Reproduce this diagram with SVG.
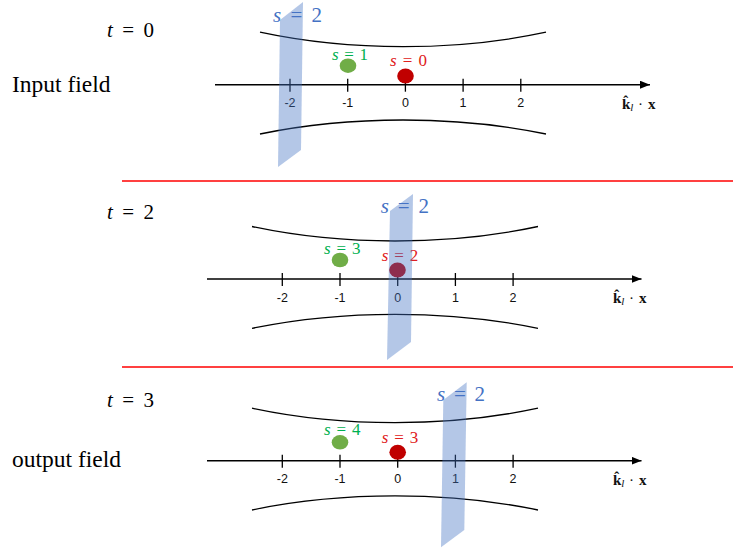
<svg xmlns="http://www.w3.org/2000/svg" width="733" height="550" viewBox="0 0 733 550">
<style>
.sep{stroke:#ff0000;stroke-width:1.6}
.axis{stroke:#000;stroke-width:1.5;fill:none}
.tick{stroke:#000;stroke-width:1.3}
.beam{stroke:#000;stroke-width:1.3;fill:none}
.tl{font-family:"Liberation Sans",Arial,sans-serif;font-size:12.5px;text-anchor:middle;fill:#111}
.math{font-family:"Liberation Serif","Times New Roman",serif}
.it{font-style:italic}
.sm{font-size:17px}
.big{font-size:21px}
.green{fill:#00b050}
.red{fill:#e02020}
.blue{fill:#4472c4}
.plane{fill:#4472c4;fill-opacity:0.4}
.gdot{fill:#70ad47}
.rdot{fill:#c00000}
.field{font-family:"Liberation Serif","Times New Roman",serif;font-size:23.5px;fill:#000}
.kl{font-family:"Liberation Serif","Times New Roman",serif;font-size:15px;fill:#111}
</style>
<defs>
<marker id="arr" markerUnits="userSpaceOnUse" markerWidth="11" markerHeight="9" refX="10" refY="4" orient="auto">
<path d="M0,0 L10,4 L0,8 z" fill="#000"/>
</marker>
</defs>
<rect width="733" height="550" fill="#fff"/>
<g id="separators">
<line class="sep" x1="122" y1="181" x2="733" y2="181"/>
<line class="sep" x1="122" y1="367" x2="733" y2="367"/>
</g>
<g id="labels-left">
<text class="math big" x="107" y="37" textLength="47"><tspan class="it">t</tspan> = 0</text>
<text class="math big" x="107" y="219.3" textLength="47"><tspan class="it">t</tspan> = 2</text>
<text class="math big" x="107" y="406.7" textLength="47"><tspan class="it">t</tspan> = 3</text>
<text class="field" x="12" y="91.7">Input field</text>
<text class="field" x="12" y="467.3">output field</text>
</g>
<g id="panel-t0">
<line class="axis" x1="215" y1="84.7" x2="650" y2="84.7" marker-end="url(#arr)"/>
<g>
<line class="tick" x1="290" y1="78.7" x2="290" y2="91.7"/>
<line class="tick" x1="347.7" y1="78.7" x2="347.7" y2="91.7"/>
<line class="tick" x1="405.4" y1="78.7" x2="405.4" y2="91.7"/>
<line class="tick" x1="463.1" y1="78.7" x2="463.1" y2="91.7"/>
<line class="tick" x1="520.8" y1="78.7" x2="520.8" y2="91.7"/>
</g>
<text class="tl" x="290" y="107.2">-2</text>
<text class="tl" x="347.7" y="107.2">-1</text>
<text class="tl" x="405.4" y="107.2">0</text>
<text class="tl" x="463.1" y="107.2">1</text>
<text class="tl" x="520.8" y="107.2">2</text>
<path class="beam" d="M260,32.2 C350,51.5 456,51.5 546,32.2"/>
<path class="beam" d="M260,134 C350,115.3 456,115.3 546,134"/>
<text class="kl" x="622" y="109"><tspan font-weight="bold">k&#x302;</tspan><tspan font-style="italic" font-size="11" dy="2">l</tspan><tspan dy="-2" dx="4.5">·</tspan><tspan dx="5" font-weight="bold">x</tspan></text>
<text class="math sm green" x="332" y="60" textLength="36"><tspan class="it">s</tspan> = 1</text>
<ellipse class="gdot" cx="348" cy="65.7" rx="8.3" ry="7.3"/>
<text class="math sm red" x="390" y="66" textLength="37"><tspan class="it">s</tspan> = 0</text>
<ellipse class="rdot" cx="405.5" cy="76" rx="8.3" ry="7.5"/>
<polygon class="plane" points="280,20 303,2 301,150 278,167"/>
<text class="math big blue" x="273" y="22" textLength="49"><tspan class="it">s</tspan> = 2</text>
</g>
<g id="panel-t2">
<line class="axis" x1="207" y1="279" x2="641.5" y2="279" marker-end="url(#arr)"/>
<g>
<line class="tick" x1="282.3" y1="273" x2="282.3" y2="286"/>
<line class="tick" x1="340" y1="273" x2="340" y2="286"/>
<line class="tick" x1="397.7" y1="273" x2="397.7" y2="286"/>
<line class="tick" x1="455.4" y1="273" x2="455.4" y2="286"/>
<line class="tick" x1="513.1" y1="273" x2="513.1" y2="286"/>
</g>
<text class="tl" x="282.3" y="301.5">-2</text>
<text class="tl" x="340" y="301.5">-1</text>
<text class="tl" x="397.7" y="301.5">0</text>
<text class="tl" x="455.4" y="301.5">1</text>
<text class="tl" x="513.1" y="301.5">2</text>
<path class="beam" d="M252,226.5 C342,245.8 448,245.8 538,226.5"/>
<path class="beam" d="M252,328.3 C342,309.6 448,309.6 538,328.3"/>
<text class="kl" x="613" y="303"><tspan font-weight="bold">k&#x302;</tspan><tspan font-style="italic" font-size="11" dy="2">l</tspan><tspan dy="-2" dx="4.5">·</tspan><tspan dx="5" font-weight="bold">x</tspan></text>
<text class="math sm green" x="324" y="254" textLength="36.5"><tspan class="it">s</tspan> = 3</text>
<ellipse class="gdot" cx="340" cy="260" rx="8.3" ry="7.3"/>
<text class="math sm red" x="381.7" y="260.7" textLength="36.5"><tspan class="it">s</tspan> = 2</text>
<ellipse class="rdot" cx="397.5" cy="270" rx="8.3" ry="7.5"/>
<polygon class="plane" points="390,211 413,194 411,342 387,360"/>
<text class="math big blue" x="380.7" y="212.7" textLength="48.3"><tspan class="it">s</tspan> = 2</text>
</g>
<g id="panel-t3">
<line class="axis" x1="207" y1="460.7" x2="641.5" y2="460.7" marker-end="url(#arr)"/>
<g>
<line class="tick" x1="282.3" y1="454.7" x2="282.3" y2="467.7"/>
<line class="tick" x1="340" y1="454.7" x2="340" y2="467.7"/>
<line class="tick" x1="397.7" y1="454.7" x2="397.7" y2="467.7"/>
<line class="tick" x1="455.4" y1="454.7" x2="455.4" y2="467.7"/>
<line class="tick" x1="513.1" y1="454.7" x2="513.1" y2="467.7"/>
</g>
<text class="tl" x="282.3" y="483.2">-2</text>
<text class="tl" x="340" y="483.2">-1</text>
<text class="tl" x="397.7" y="483.2">0</text>
<text class="tl" x="455.4" y="483.2">1</text>
<text class="tl" x="513.1" y="483.2">2</text>
<path class="beam" d="M252,408.2 C342,427.5 448,427.5 538,408.2"/>
<path class="beam" d="M252,510 C342,491.3 448,491.3 538,510"/>
<text class="kl" x="613" y="485"><tspan font-weight="bold">k&#x302;</tspan><tspan font-style="italic" font-size="11" dy="2">l</tspan><tspan dy="-2" dx="4.5">·</tspan><tspan dx="5" font-weight="bold">x</tspan></text>
<text class="math sm green" x="324" y="435" textLength="36.5"><tspan class="it">s</tspan> = 4</text>
<ellipse class="gdot" cx="340" cy="442.3" rx="8.3" ry="7.3"/>
<text class="math sm red" x="381.7" y="442.7" textLength="36.5"><tspan class="it">s</tspan> = 3</text>
<ellipse class="rdot" cx="397.7" cy="452.3" rx="8.3" ry="7.5"/>
<polygon class="plane" points="443.3,400 466.7,382.3 464.3,530 441,547.3"/>
<text class="math big blue" x="437" y="400.7" textLength="48"><tspan class="it">s</tspan> = 2</text>
</g>
</svg>
